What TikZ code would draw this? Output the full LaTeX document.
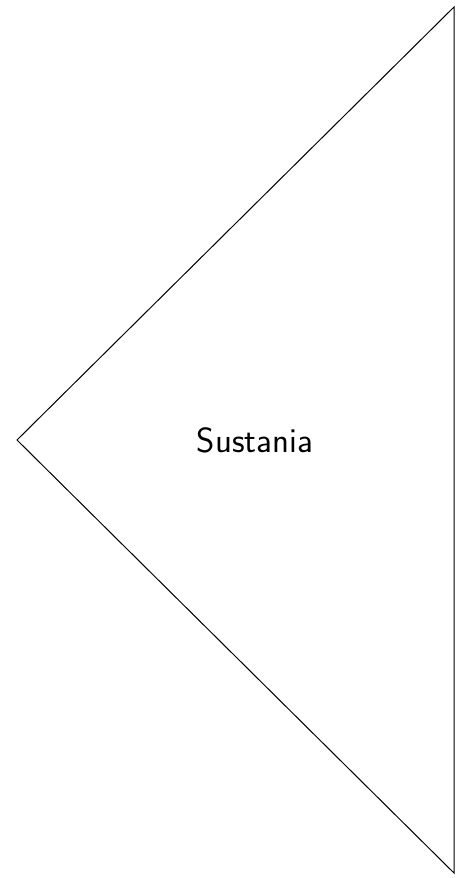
\documentclass[tikz,border=0pt]{standalone}
\usepackage{fontspec}
\tikzset{
  tri/.style={draw=black, line width=1pt, line join=miter},
  lbl/.style={font=\sffamily\fontsize{35}{42}\selectfont, inner sep=0pt}
}
\begin{document}
\begin{tikzpicture}[x=1pt,y=-1pt]
\useasboundingbox (0,0) rectangle (462,878);
\coordinate (t) at (454,7);
\coordinate (l) at (17,440);
\coordinate (b) at (454,873);
\draw[tri] (t) -- (l) -- (b) -- cycle;
\node[lbl] (s) at (255,440) {Sustania};
\end{tikzpicture}
\end{document}
